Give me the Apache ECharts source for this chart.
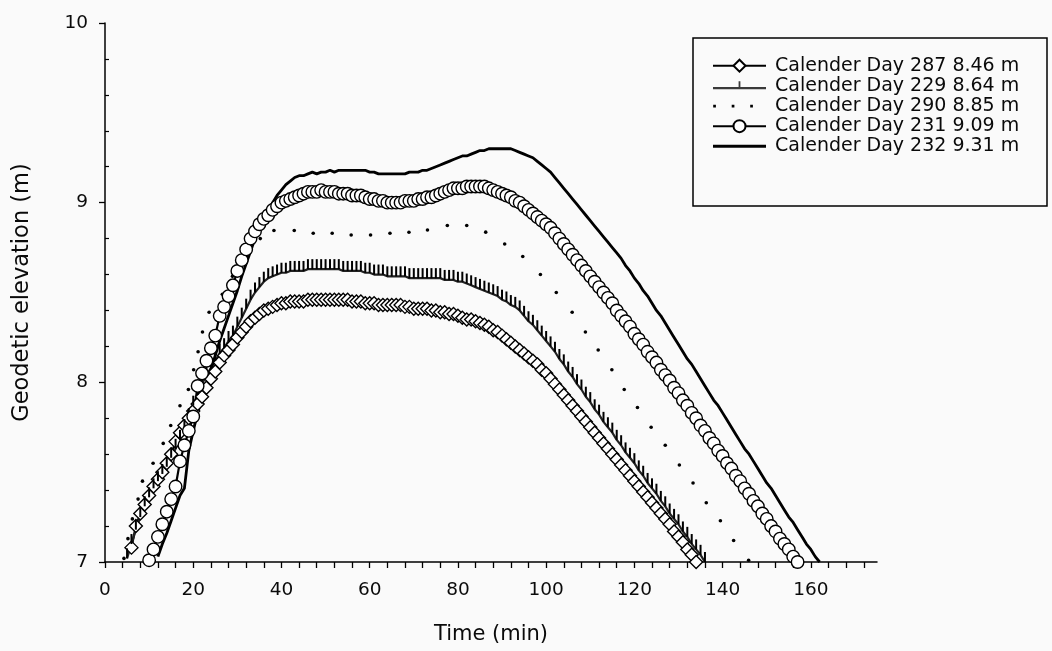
<!DOCTYPE html>
<html><head><meta charset="utf-8">
<script src="https://cdn.jsdelivr.net/npm/echarts@6/dist/echarts.min.js"></script>
<style>html,body{margin:0;padding:0;background:#fafafa}#c{width:1052px;height:651px}</style>
</head><body><div id="c"></div>
<script>
const seriesNames = ['Calender Day 287 8.46 m','Calender Day 229 8.64 m','Calender Day 290 8.85 m','Calender Day 231 9.09 m','Calender Day 232 9.31 m'];
const xTickLabels = [0,20,40,60,80,100,120,140,160];
const xTicks = [0,4,8,12,16,20,24,28,32,36,40,44,48,52,56,60,64,68,72,76,80,84,88,92,96,100,104,108,112,116,120,124,128,132,136,140,144,148,152,156,160,164,168,172];
const yTickLabels = [7,8,9,10];
const yMinorTicks = [7.2,7.4,7.6,7.8,8.2,8.4,8.6,8.8,9.2,9.4,9.6,9.8];

// Day 287 (diamonds), one value per minute from minute 6
const day287Start = 6;
const day287 = [7.08,7.20,7.27,7.32,7.37,7.42,7.46,7.50,7.55,7.60,
7.67,7.72,7.76,7.80,7.84,7.88,7.92,7.97,8.02,8.06,
8.11,8.15,8.18,8.21,8.25,8.28,8.31,8.34,8.36,8.38,
8.40,8.41,8.42,8.43,8.44,8.44,8.45,8.45,8.45,8.45,
8.46,8.46,8.46,8.46,8.46,8.46,8.46,8.46,8.46,8.46,
8.45,8.45,8.45,8.44,8.44,8.44,8.43,8.43,8.43,8.43,
8.43,8.43,8.42,8.42,8.41,8.41,8.41,8.41,8.40,8.40,
8.39,8.39,8.38,8.38,8.37,8.36,8.35,8.35,8.34,8.33,
8.32,8.31,8.29,8.28,8.26,8.24,8.22,8.20,8.18,8.16,
8.14,8.12,8.10,8.07,8.05,8.02,7.99,7.96,7.93,7.90,
7.87,7.84,7.81,7.78,7.75,7.72,7.69,7.66,7.63,7.60,
7.57,7.54,7.51,7.48,7.45,7.42,7.39,7.36,7.33,7.30,
7.27,7.24,7.21,7.17,7.14,7.11,7.07,7.04,7.00];

// Day 229 (tick marks), one value per minute from minute 5
const day229Start = 5;
const day229 = [7.02,7.10,7.18,7.25,7.31,7.36,7.41,7.45,7.49,7.53,
7.58,7.63,7.68,7.74,7.80,7.87,7.93,7.99,8.04,8.08,
8.12,8.16,8.19,8.23,8.26,8.31,8.36,8.41,8.46,8.50,
8.53,8.56,8.58,8.59,8.60,8.61,8.61,8.62,8.62,8.62,
8.62,8.63,8.63,8.63,8.63,8.63,8.63,8.63,8.63,8.62,
8.62,8.62,8.62,8.62,8.61,8.61,8.60,8.60,8.60,8.59,
8.59,8.59,8.59,8.59,8.58,8.58,8.58,8.58,8.58,8.58,
8.58,8.58,8.57,8.57,8.57,8.56,8.56,8.55,8.54,8.53,
8.52,8.51,8.50,8.49,8.48,8.46,8.45,8.43,8.42,8.40,
8.37,8.34,8.32,8.29,8.26,8.23,8.20,8.17,8.13,8.10,
8.06,8.03,7.99,7.96,7.92,7.89,7.85,7.82,7.78,7.75,
7.72,7.68,7.65,7.61,7.58,7.55,7.51,7.48,7.44,7.41,
7.38,7.34,7.31,7.27,7.24,7.21,7.17,7.14,7.10,7.07,
7.04,7.00];

// Day 290 (dotted), read dot by dot
const day290Times = [4.3,5.2,6.2,7.5,8.5,10.9,13.2,14.9,17.0,18.9,20.1,21.1,22.1,23.6,26.6,28.9,32.0,35.2,38.3,42.9,47.2,51.5,55.8,60.2,64.6,68.9,73.1,77.6,82.0,86.3,90.6,94.7,98.7,102.3,105.9,108.9,111.8,114.9,117.7,120.7,123.8,127.0,130.2,133.3,136.3,139.5,142.5,145.9];
const day290Values = [7.02,7.13,7.24,7.35,7.45,7.55,7.66,7.76,7.87,7.96,8.07,8.17,8.28,8.39,8.49,8.59,8.70,8.80,8.845,8.845,8.83,8.83,8.82,8.82,8.83,8.835,8.848,8.873,8.873,8.836,8.77,8.70,8.60,8.50,8.39,8.28,8.18,8.07,7.96,7.86,7.75,7.65,7.54,7.44,7.33,7.23,7.12,7.01];

// Day 231 (circles), one value per minute from minute 10
const day231Start = 10;
const day231 = [7.01,7.07,7.14,7.21,7.28,7.35,7.42,7.56,7.65,7.73,
7.81,7.98,8.05,8.12,8.19,8.26,8.37,8.42,8.48,8.54,
8.62,8.68,8.74,8.80,8.84,8.88,8.91,8.93,8.96,8.98,
9.00,9.01,9.02,9.03,9.04,9.05,9.06,9.06,9.06,9.07,
9.06,9.06,9.06,9.05,9.05,9.05,9.04,9.04,9.04,9.03,
9.02,9.02,9.01,9.01,9.00,9.00,9.00,9.00,9.01,9.01,
9.01,9.02,9.02,9.03,9.03,9.04,9.05,9.06,9.07,9.08,
9.08,9.08,9.09,9.09,9.09,9.09,9.09,9.08,9.07,9.06,
9.05,9.04,9.03,9.01,9.00,8.98,8.96,8.94,8.92,8.90,
8.88,8.86,8.83,8.80,8.77,8.74,8.71,8.68,8.65,8.62,
8.59,8.56,8.53,8.50,8.47,8.44,8.40,8.37,8.34,8.31,
8.27,8.24,8.21,8.17,8.14,8.11,8.07,8.04,8.01,7.97,
7.94,7.90,7.87,7.83,7.80,7.76,7.73,7.69,7.66,7.62,
7.59,7.55,7.52,7.48,7.45,7.41,7.38,7.34,7.31,7.27,
7.24,7.20,7.17,7.13,7.10,7.07,7.03,7.00];

// Day 232 (solid line), one value per minute from minute 12
const day232Start = 12;
const day232 = [7.03,7.10,7.16,7.23,7.30,7.37,7.41,7.62,7.73,7.83,
7.91,7.99,8.07,8.15,8.23,8.30,8.37,8.44,8.51,8.59,
8.66,8.73,8.80,8.86,8.91,8.96,9.00,9.04,9.07,9.10,
9.12,9.14,9.15,9.15,9.16,9.17,9.16,9.17,9.17,9.18,
9.17,9.18,9.18,9.18,9.18,9.18,9.18,9.18,9.17,9.17,
9.16,9.16,9.16,9.16,9.16,9.16,9.16,9.17,9.17,9.17,
9.18,9.18,9.19,9.20,9.21,9.22,9.23,9.24,9.25,9.26,
9.26,9.27,9.28,9.29,9.29,9.30,9.30,9.30,9.30,9.30,
9.30,9.29,9.28,9.27,9.26,9.25,9.23,9.21,9.19,9.17,
9.14,9.11,9.08,9.05,9.02,8.99,8.96,8.93,8.90,8.87,
8.84,8.81,8.78,8.75,8.72,8.69,8.65,8.62,8.58,8.55,
8.51,8.48,8.44,8.40,8.37,8.33,8.29,8.25,8.21,8.17,
8.13,8.10,8.06,8.02,7.98,7.94,7.90,7.87,7.83,7.79,
7.75,7.71,7.67,7.63,7.60,7.56,7.52,7.48,7.44,7.41,
7.37,7.33,7.29,7.25,7.22,7.18,7.14,7.10,7.07,7.03,
7.00];

const perMinute = (start, vals) => vals.map((v, i) => [start + i, v]);
const FONT = 'DejaVu Sans';
const INK = '#0a0a0a';

const chart = echarts.init(document.getElementById('c'), null, {renderer: 'canvas'});
chart.setOption({
  backgroundColor: '#fafafa',
  animation: false,
  grid: {left: 105, top: 23, width: 772, height: 539},
  xAxis: {
    type: 'value', min: 0, max: 175,
    name: 'Time (min)', nameLocation: 'middle', nameGap: 62,
    nameTextStyle: {fontFamily: FONT, fontSize: 21, color: INK},
    axisLine: {lineStyle: {color: '#000', width: 1.5}},
    axisTick: {customValues: xTicks, length: 6, lineStyle: {color: '#000', width: 1.3}},
    axisLabel: {customValues: xTickLabels, fontFamily: FONT, fontSize: 18.5, color: INK, margin: 19},
    splitLine: {show: false}
  },
  yAxis: [{
    type: 'value', min: 7, max: 10,
    name: 'Geodetic elevation (m)', nameLocation: 'middle', nameGap: 71, nameRotate: 90,
    nameTextStyle: {fontFamily: FONT, fontSize: 22.5, color: INK},
    axisLine: {lineStyle: {color: '#000', width: 1.5}},
    axisTick: {customValues: yTickLabels, length: 6, lineStyle: {color: '#000', width: 1.3}},
    axisLabel: {customValues: yTickLabels, fontFamily: FONT, fontSize: 18.5, color: INK, margin: 17},
    splitLine: {show: false}
  }, {
    type: 'value', min: 7, max: 10, position: 'left',
    axisLine: {show: false},
    axisTick: {show: true, inside: true, customValues: yMinorTicks, length: 4, lineStyle: {color: '#000', width: 1.2}},
    axisLabel: {show: false},
    splitLine: {show: false}
  }],
  legend: {
    orient: 'vertical', left: 712, top: 55.6, padding: 0,
    itemWidth: 53, itemHeight: 15, itemGap: 0, selectedMode: false,
    textStyle: {fontFamily: FONT, fontSize: 19, color: INK, lineHeight: 20.15, padding: [0, 0, 0, 4]},
    data: [
      {name: seriesNames[0]},
      {name: seriesNames[1], icon: 'path://M0,0 M53,15 M0,8.7 L53,8.7 L53,10.9 L0,10.9 Z M25.6,3 L27.4,3 L27.4,8.7 L25.6,8.7 Z', itemStyle: {color: '#3a3a3a', borderWidth: 0}},
      {name: seriesNames[2], icon: 'path://M0,0 M53,15 M0.2,6.2 L2.9,6.2 L2.9,8.9 L0.2,8.9 Z M18.7,6.2 L21.4,6.2 L21.4,8.9 L18.7,8.9 Z M37.2,6.2 L39.9,6.2 L39.9,8.9 L37.2,8.9 Z', itemStyle: {color: '#000', borderWidth: 0}},
      {name: seriesNames[3]},
      {name: seriesNames[4], icon: 'path://M0,0 M53,15 M0,6 L53,6 L53,9 L0,9 Z', itemStyle: {color: '#000', borderWidth: 0}}
    ]
  },
  graphic: [{
    type: 'rect', z: 100, silent: true,
    shape: {x: 693, y: 38, width: 354, height: 168},
    style: {fill: 'none', stroke: '#000', lineWidth: 1.5}
  }],
  series: [{
    name: seriesNames[0], type: 'line', yAxisIndex: 0,
    data: perMinute(day287Start, day287),
    symbol: 'diamond', symbolSize: 13, showAllSymbol: true,
    lineStyle: {color: '#000', width: 2.2},
    itemStyle: {color: '#fff', borderColor: '#000', borderWidth: 1.4}
  }, {
    name: seriesNames[1], type: 'line', yAxisIndex: 0,
    data: perMinute(day229Start, day229),
    symbol: 'rect', symbolSize: [2, 10], symbolOffset: [0, '-50%'], showAllSymbol: true,
    lineStyle: {color: '#222', width: 2.2},
    itemStyle: {color: '#000', borderWidth: 0}
  }, {
    name: seriesNames[2], type: 'line', yAxisIndex: 0,
    data: day290Times.map((t, i) => [t, day290Values[i]]),
    symbol: 'circle', symbolSize: 3.6, showAllSymbol: true,
    lineStyle: {width: 0, opacity: 0},
    itemStyle: {color: '#000', borderWidth: 0}
  }, {
    name: seriesNames[3], type: 'line', yAxisIndex: 0,
    data: perMinute(day231Start, day231),
    symbol: 'circle', symbolSize: 12.5, showAllSymbol: true,
    lineStyle: {color: '#000', width: 2.2},
    itemStyle: {color: '#fff', borderColor: '#000', borderWidth: 1.4}
  }, {
    name: seriesNames[4], type: 'line', yAxisIndex: 0,
    data: perMinute(day232Start, day232),
    symbol: 'none',
    lineStyle: {color: '#000', width: 2.8}
  }]
});
</script>
</body></html>
